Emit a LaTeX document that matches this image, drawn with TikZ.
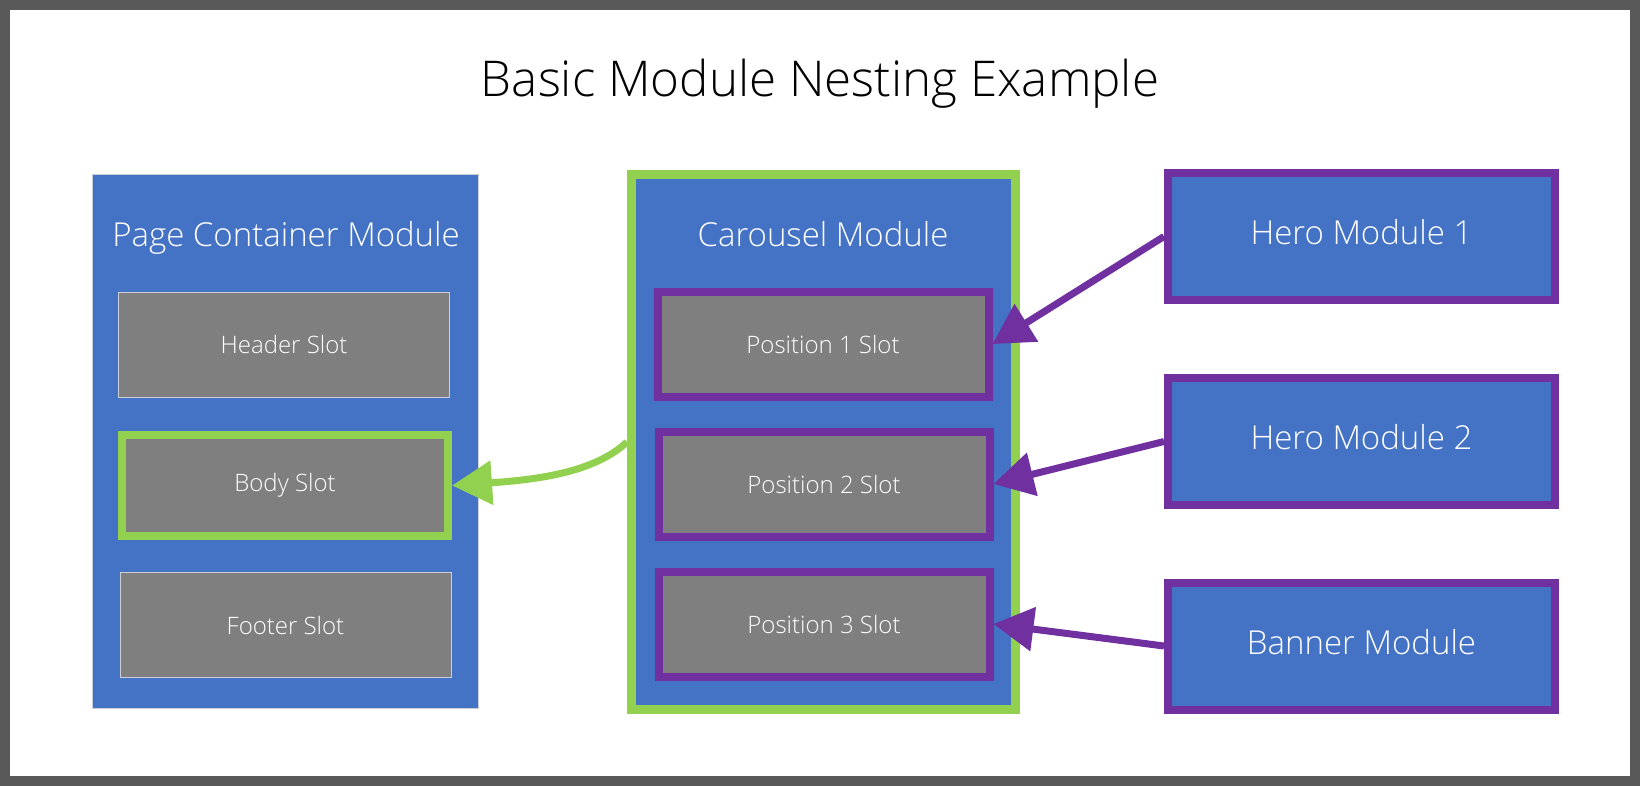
\documentclass[tikz,border=0pt]{standalone}
\usepackage{fontspec}
\setmainfont{Open Sans Light}
\usetikzlibrary{arrows.meta}

\definecolor{modblue}{HTML}{4472C4}
\definecolor{slotgray}{HTML}{7F7F7F}
\definecolor{nestgreen}{HTML}{92D050}
\definecolor{fillpurple}{HTML}{7030A0}
\definecolor{framegray}{HTML}{595959}
\definecolor{thinline}{HTML}{C9CED8}

\begin{document}
\begin{tikzpicture}[x=1pt,y=-1pt,
	modfont/.style={font=\fontsize{33}{40}\selectfont},
	slotfont/.style={font=\fontsize{24}{29}\selectfont},
	container/.style={fill=modblue,inner sep=0pt,text=white},
	slotbox/.style={fill=slotgray,inner sep=0pt,text=white,slotfont,
		minimum width=331pt,minimum height=105pt},
	posbox/.style={slotbox,draw=fillpurple,line width=8pt,
		minimum width=331pt,minimum height=105pt},
	filler/.style={fill=modblue,draw=fillpurple,line width=8pt,inner sep=0pt,
		text=white,modfont,text height=24pt,text depth=7.5pt,
		minimum width=387pt,minimum height=127pt},
	fillarrow/.style={draw=fillpurple,line width=7pt,
		-{Triangle[length=40pt,width=43pt]}},
	nestarrow/.style={draw=nestgreen,line width=7pt,
		-{Triangle[length=40pt,width=43pt]}}]

\useasboundingbox (0,0) rectangle (1640,786);
\fill[white] (0,0) rectangle (1640,786);
\draw[framegray,line width=10pt] (5,5) rectangle (1635,781);

\node[anchor=base] (title) at (820,97) {\fontsize{49.3}{59}\selectfont Basic Module Nesting Example};

% page container with its slots
\node[container,draw=thinline,line width=1pt,minimum width=386pt,minimum height=534pt]
	(page) at (285.5,441.5) {};
\node[modfont,text=white,anchor=base] (pagelbl) at (286,247) {Page Container Module};
\node[slotbox,draw=thinline,line width=1pt] (header) at (284,344.5) {Header Slot};
\node[slotbox,draw=nestgreen,line width=8pt,minimum width=326pt,minimum height=101pt]
	(body) at (285,485.5) {Body Slot};
\node[slotbox,draw=thinline,line width=1pt] (footer) at (285.5,625) {Footer Slot};

% carousel with its positions
\node[container,draw=nestgreen,line width=9pt,minimum width=384pt,minimum height=535pt]
	(carousel) at (823.5,442) {};
\node[modfont,text=white,anchor=base] (carlbl) at (823,247) {Carousel Module};
\node[posbox] (pos1) at (823,344) {Position 1 Slot};
\node[posbox] (pos2) at (824,484) {Position 2 Slot};
\node[posbox] (pos3) at (824,624) {Position 3 Slot};

% modules that fill the positions
\node[filler] (hero1) at (1361.5,236.5) {Hero Module 1};
\node[filler] (hero2) at (1361.5,441.5) {Hero Module 2};
\node[filler] (banner) at (1361.5,646) {Banner Module};

\draw[fillarrow] (hero1.west) -- (pos1.east);
\draw[fillarrow] (hero2.west) -- (pos2.east);
\draw[fillarrow] (banner.west) -- (pos3.east);

\draw[nestarrow] (carousel.west) .. controls +(-32,30) and +(87,-6) .. (body.east);

\end{tikzpicture}
\end{document}
